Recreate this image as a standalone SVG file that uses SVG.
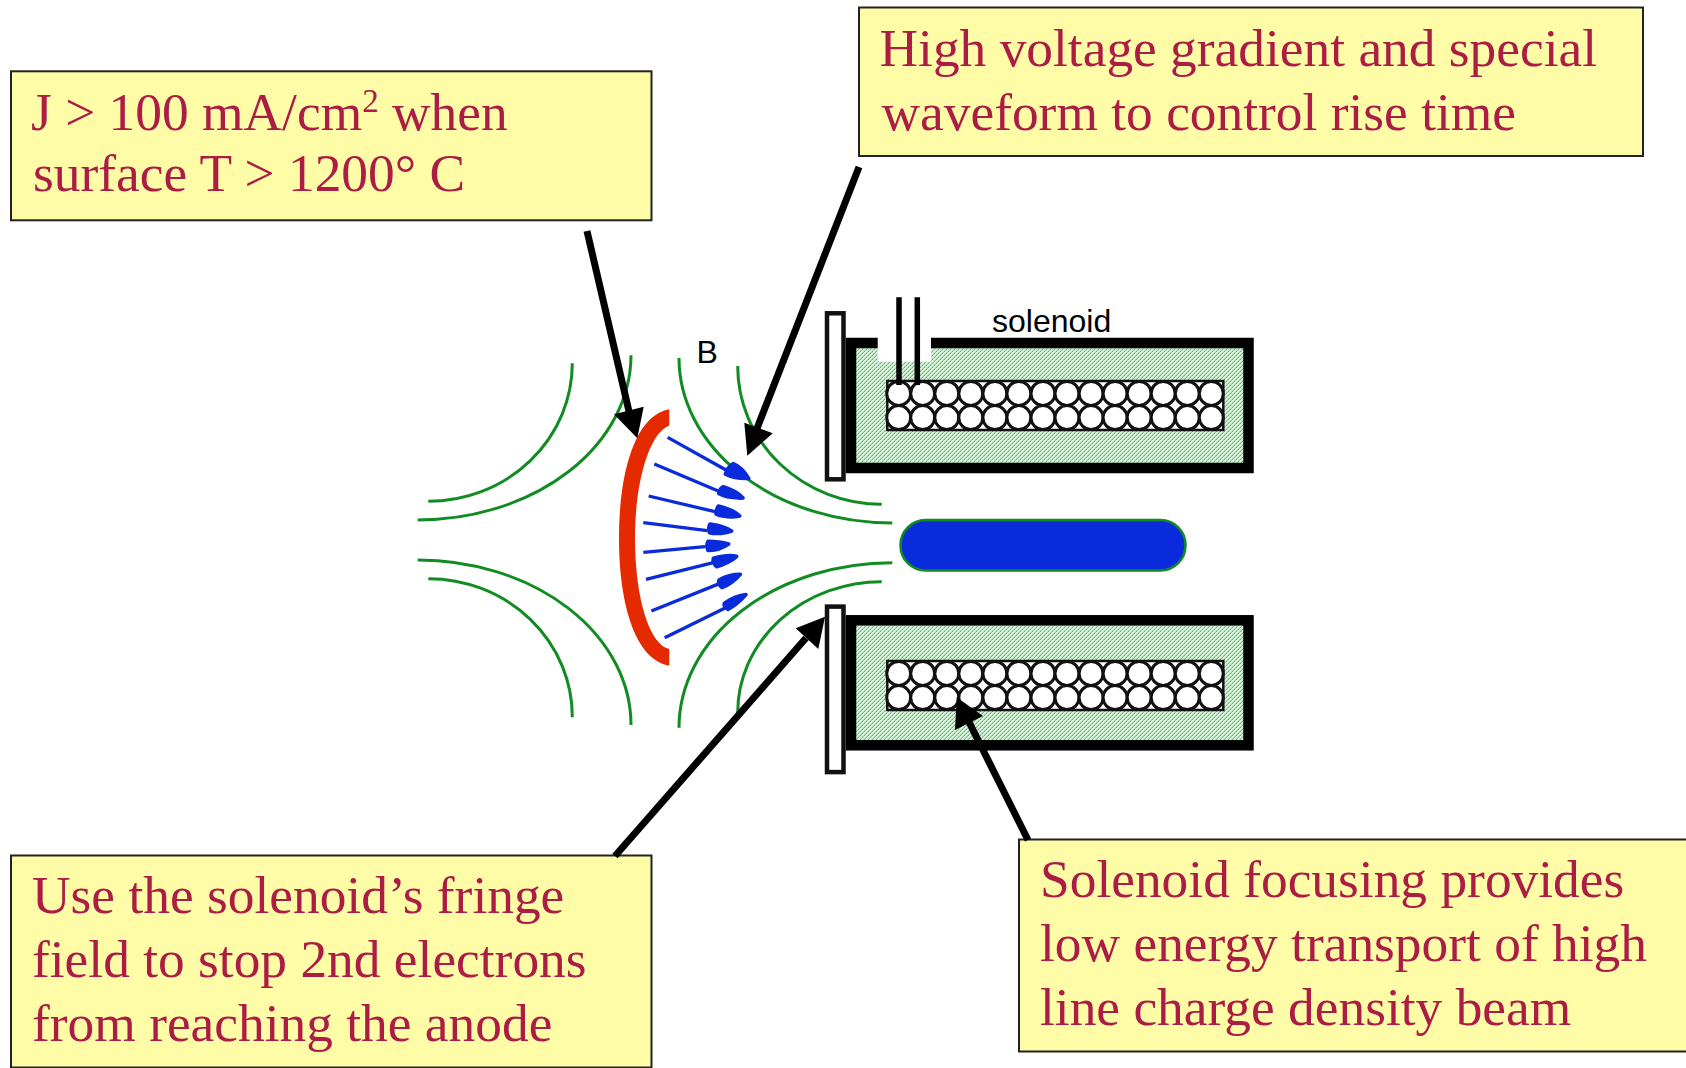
<svg xmlns="http://www.w3.org/2000/svg" xmlns:xlink="http://www.w3.org/1999/xlink" width="1686" height="1068" viewBox="0 0 1686 1068">
<style>
.box{fill:#FFFCA8;stroke:#222;stroke-width:2}
.t{font-family:"Liberation Serif","Times New Roman",serif;font-size:53.4px;fill:#AB1D44}
.lab{font-family:"Liberation Sans",Arial,sans-serif;font-size:32px;fill:#000}
.fl{fill:none;stroke:#118C22;stroke-width:3}
.sh{fill:url(#hatch);stroke:#000;stroke-width:10.5}
.plate{fill:#fff;stroke:#111;stroke-width:4.5}
.coil{fill:#fff;stroke:#111;stroke-width:3}
.ar{stroke:#000;stroke-width:7;fill:none}
.ah{fill:#000}
.bl{stroke:#0A2BDC;stroke-width:10;fill:none}
.bh{fill:#0A2BDC;stroke:#0A2BDC;stroke-width:11;stroke-linejoin:round}
</style>
<defs>
<pattern id="hatch" width="4" height="4" patternUnits="userSpaceOnUse">
<rect width="4" height="4" fill="#DDF2DF"/>
<path d="M0 3h1v1h-1zM2 1h1v1h-1z" fill="#4FB866"/>
<path d="M1 2h1v1h-1zM3 0h1v1h-1z" fill="#7CCB8C"/>
<path d="M0 2h1v1h-1zM1 1h1v1h-1zM2 0h1v1h-1zM3 3h1v1h-1z" fill="#B4E1BA"/>
</pattern>
<g id="wires">
<rect x="887.3" y="0" width="336" height="49" fill="#fff" stroke="#111" stroke-width="2.5"/>
<g class="coil">
<circle cx="898.7" cy="12.4" r="12"/><circle cx="922.7" cy="12.4" r="12"/><circle cx="946.8" cy="12.4" r="12"/><circle cx="970.8" cy="12.4" r="12"/><circle cx="994.9" cy="12.4" r="12"/><circle cx="1018.9" cy="12.4" r="12"/><circle cx="1043" cy="12.4" r="12"/><circle cx="1067" cy="12.4" r="12"/><circle cx="1091.1" cy="12.4" r="12"/><circle cx="1115.1" cy="12.4" r="12"/><circle cx="1139.2" cy="12.4" r="12"/><circle cx="1163.2" cy="12.4" r="12"/><circle cx="1187.3" cy="12.4" r="12"/><circle cx="1211.3" cy="12.4" r="12"/>
<circle cx="898.7" cy="36.6" r="12"/><circle cx="922.7" cy="36.6" r="12"/><circle cx="946.8" cy="36.6" r="12"/><circle cx="970.8" cy="36.6" r="12"/><circle cx="994.9" cy="36.6" r="12"/><circle cx="1018.9" cy="36.6" r="12"/><circle cx="1043" cy="36.6" r="12"/><circle cx="1067" cy="36.6" r="12"/><circle cx="1091.1" cy="36.6" r="12"/><circle cx="1115.1" cy="36.6" r="12"/><circle cx="1139.2" cy="36.6" r="12"/><circle cx="1163.2" cy="36.6" r="12"/><circle cx="1187.3" cy="36.6" r="12"/><circle cx="1211.3" cy="36.6" r="12"/>
</g>
</g>
</defs>
<rect width="1686" height="1068" fill="#fff"/>

<g id="field-lines">
<path class="fl" d="M572.3 363.3A144 138 0 0 1 428.3 501.3"/>
<path class="fl" d="M631 355.3A213.3 165 0 0 1 417.7 520"/>
<path class="fl" d="M417.7 560A213.3 165 0 0 1 631 725"/>
<path class="fl" d="M428.3 578.7A144 138 0 0 1 572.3 717.3"/>
<path class="fl" d="M679 358A213.3 165 0 0 0 892.3 523"/>
<path class="fl" d="M737.7 366A144 138 0 0 0 881.7 504.3"/>
<path class="fl" d="M679 727.7A213.3 165 0 0 1 892.3 562.7"/>
<path class="fl" d="M737.7 713A144 131 0 0 1 881.7 581.7"/>
</g>

<g id="cathode">
<path fill="#E62A00" d="M669.3 409.3C636 415 619 470 619 538C619 606 636 660 669.3 665.7V649C650 645 635 600 635 538C635 480 650 432 669.3 425.7Z"/>
</g>

<g id="electrons" transform="translate(620 400) scale(.33333)">
<path class="bl" d="M143 112L318 210M103 192L300 275M86 288L285 335M70 368L262 392M70 457L255 440M78 538L280 488M94 633L300 550M134 713L320 622"/>
<path class="bh" d="M340 191C360 199 377 220 386 235C362 236 334 231 316 222C320 210 331 196 340 191Z"/>
<path class="bh" d="M310 260C336 268 358 280 369 294C350 295 316 292 296 280C298 271 303 263 310 260Z"/>
<path class="bh" d="M295 318C320 324 348 336 359 348C340 352 306 352 288 342C289 332 291 323 295 318Z"/>
<path class="bh" d="M270 372C298 375 322 385 335 393C318 400 289 403 268 398C266 390 266 379 270 372Z"/>
<path class="bh" d="M264 424C288 424 312 428 326 432C310 443 285 452 264 451C260 443 260 432 264 424Z"/>
<path class="bh" d="M280 475C302 469 332 465 350 469C338 481 310 496 290 500C283 493 278 483 280 475Z"/>
<path class="bh" d="M297 540C316 529 342 523 361 523C348 538 324 556 306 563C298 556 294 548 297 540Z"/>
<path class="bh" d="M313 610C332 597 358 586 378 584C364 600 344 618 324 628C316 623 311 616 313 610Z"/>
</g>

<g id="beam">
<rect x="900.5" y="520" width="285" height="50.5" rx="25" fill="#0A2BDC" stroke="#118C22" stroke-width="2.5"/>
</g>

<g id="solenoid-top">
<rect class="sh" x="851" y="343" width="397.5" height="125"/>
<rect x="877.7" y="337" width="53.3" height="24.7" fill="#fff"/>
<use xlink:href="#wires" href="#wires" y="381"/>
<path d="M899 297.3V385M917.3 297.3V385" stroke="#000" stroke-width="5.5" fill="none"/>
<rect class="plate" x="827" y="313.3" width="16.5" height="166"/>
<text class="lab" x="992" y="332">solenoid</text>
</g>

<g id="solenoid-bottom">
<rect class="sh" x="851" y="620.3" width="397.5" height="125"/>
<use xlink:href="#wires" href="#wires" y="661"/>
<rect class="plate" x="827" y="606.6" width="16.5" height="165.5"/>
</g>

<g id="b-label"><text class="lab" x="696.5" y="363">B</text></g>

<g id="box-current">
<rect class="box" x="11" y="71.3" width="640.5" height="149"/>
<text class="t" x="31" y="130">J &gt; 100 mA/cm<tspan font-size="33" dy="-18">2</tspan><tspan dy="18"> when</tspan></text>
<text class="t" x="33" y="191">surface T &gt; 1200° C</text>
</g>
<g id="box-voltage">
<rect class="box" x="859" y="7.5" width="784" height="148.5"/>
<text class="t" x="879.5" y="66">High voltage gradient and special</text>
<text class="t" x="881.5" y="130">waveform to control rise time</text>
</g>
<g id="box-fringe">
<rect class="box" x="11" y="855.5" width="640.5" height="212"/>
<text class="t" x="32" y="913">Use the solenoid’s fringe</text>
<text class="t" x="32" y="977">field to stop 2nd electrons</text>
<text class="t" x="32" y="1041">from reaching the anode</text>
</g>
<g id="box-focus">
<rect class="box" x="1019" y="839.5" width="680" height="212"/>
<text class="t" x="1040" y="897">Solenoid focusing provides</text>
<text class="t" x="1040" y="961">low energy transport of high</text>
<text class="t" x="1040" y="1025">line charge density beam</text>
</g>

<g id="connectors">
<path class="ar" d="M587 231L631 420"/><path class="ah" d="M637.3 438.3L614 414.3L643.7 406.7Z"/>
<path class="ar" d="M859 167L756 431"/><path class="ah" d="M747.3 455.7L744.3 422.7L772.7 433.3Z"/>
<path class="ar" d="M615 856L806 638"/><path class="ah" d="M825 616.7L795.7 628.3L818.3 649Z"/>
<path class="ar" d="M1028 840L969 722"/><path class="ah" d="M956.7 697.3L955 730L983 716Z"/>
</g>
</svg>
